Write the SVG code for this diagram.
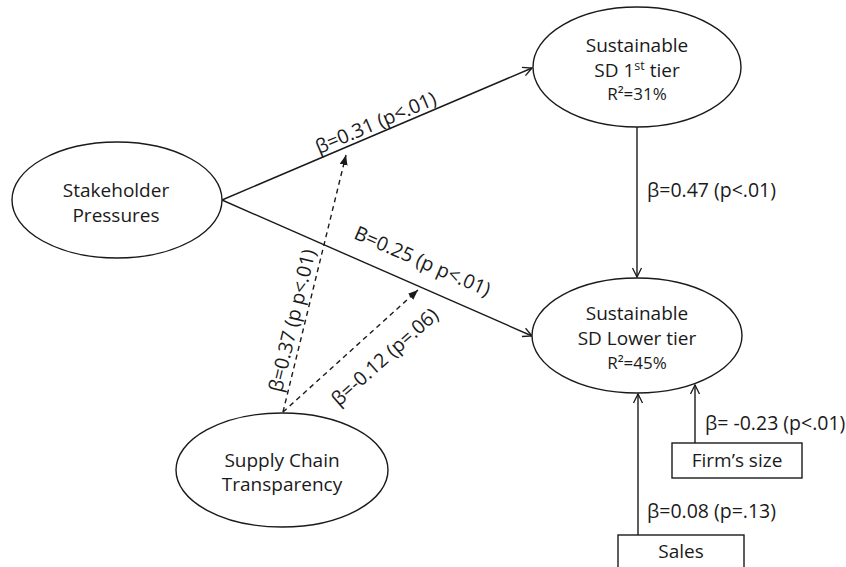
<svg xmlns="http://www.w3.org/2000/svg" width="846" height="567" viewBox="0 0 846 567">
<defs>
<style>
text{font-family:"Open Sans","Noto Sans","Liberation Sans",sans-serif;fill:#1a1a1a;}
.n{font-size:19px;text-anchor:middle;}
.r{font-size:17px;text-anchor:middle;}
.l{font-size:19.5px;}
.lm{font-size:19.5px;text-anchor:middle;}
ellipse,rect{fill:#fff;stroke:#1a1a1a;stroke-width:1.4;}
.s{stroke:#1a1a1a;stroke-width:1.4;fill:none;}
.d{stroke:#1a1a1a;stroke-width:1.4;fill:none;stroke-dasharray:5 4;}
</style>
<marker id="open" markerWidth="12" markerHeight="12" refX="10" refY="6" orient="auto" markerUnits="userSpaceOnUse">
<path d="M1,1.5 L10,6 L1,10.5" fill="none" stroke="#1a1a1a" stroke-width="1.3"/>
</marker>
<marker id="fill" markerWidth="11" markerHeight="9" refX="10" refY="4.5" orient="auto" markerUnits="userSpaceOnUse">
<path d="M0,0.5 L10,4.5 L0,8.5 z" fill="#1a1a1a"/>
</marker>
</defs>
<rect x="0" y="0" width="846" height="567" style="fill:#fff;stroke:none"/>

<g id="connectors">
<line class="s" x1="222" y1="200" x2="532" y2="68" marker-end="url(#open)"/>
<line class="s" x1="222" y1="200" x2="532" y2="336" marker-end="url(#open)"/>
<line class="s" x1="637" y1="127" x2="637" y2="277" marker-end="url(#open)"/>
<line class="s" x1="695" y1="443" x2="695" y2="385" marker-end="url(#open)"/>
<line class="s" x1="638" y1="535" x2="638" y2="394" marker-end="url(#open)"/>
<line class="d" x1="283" y1="412" x2="346" y2="155" marker-end="url(#fill)"/>
<line class="d" x1="283" y1="412" x2="418" y2="290" marker-end="url(#fill)"/>
<text class="lm" transform="translate(380,132.6) rotate(-23)" y="-4">β=0.31 (p&lt;.01)</text>
<text class="lm" transform="translate(413,283) rotate(23.6)" y="-17">B=0.25 (p p&lt;.01)</text>
<text class="lm" transform="translate(303.6,323.3) rotate(-76.5)" y="-5">β=0.37 (p p&lt;.01)</text>
<text class="lm" transform="translate(366.6,336.5) rotate(-41.7)" y="34">β=-0.12 (p=.06)</text>
<text class="l" x="647" y="197">β=0.47 (p&lt;.01)</text>
<text class="l" x="705" y="430">β= -0.23 (p&lt;.01)</text>
<text class="l" x="647" y="518">β=0.08 (p=.13)</text>
</g>

<g id="stakeholder">
<ellipse cx="117" cy="200" rx="105" ry="58"/>
<text class="n" x="116" y="197">Stakeholder</text>
<text class="n" x="116" y="222">Pressures</text>
</g>

<g id="sd-first-tier">
<ellipse cx="637" cy="67" rx="104" ry="60"/>
<text class="n" x="637" y="52">Sustainable</text>
<text class="n" x="637" y="77">SD 1<tspan font-size="12.5" dy="-7">st</tspan><tspan dy="7"> tier</tspan></text>
<text class="r" x="637" y="100">R²=31%</text>
</g>

<g id="sd-lower-tier">
<ellipse cx="637" cy="335.5" rx="105" ry="57.5"/>
<text class="n" x="637" y="320">Sustainable</text>
<text class="n" x="637" y="345">SD Lower tier</text>
<text class="r" x="637" y="369">R²=45%</text>
</g>

<g id="supply-chain">
<ellipse cx="282" cy="470" rx="106" ry="57"/>
<text class="n" x="282" y="467">Supply Chain</text>
<text class="n" x="282" y="491">Transparency</text>
</g>

<g id="firm-size">
<rect x="672" y="443" width="130" height="35"/>
<text class="n" x="737" y="467">Firm’s size</text>
</g>

<g id="sales">
<rect x="618" y="535" width="126" height="40"/>
<text class="n" x="681" y="558">Sales</text>
</g>
</svg>
